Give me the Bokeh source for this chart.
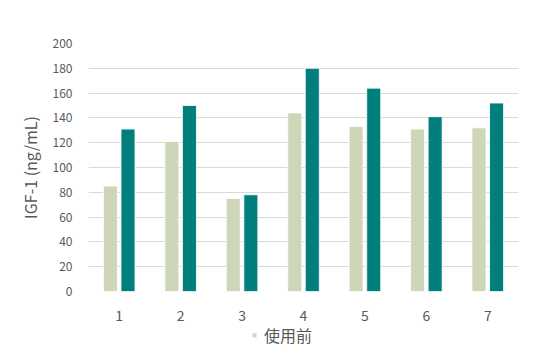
from bokeh.plotting import figure
from bokeh.layouts import column
from bokeh.models import ColumnDataSource, FactorRange, Range1d, Legend, LegendItem, FixedTicker
from bokeh.transform import dodge
from bokeh.embed import file_html
from bokeh.resources import INLINE

categories = ["1", "2", "3", "4", "5", "6", "7"]
before = [85, 121, 75, 144, 133, 131, 132]
after = [131, 150, 78, 180, 164, 141, 152]
series_names = ["使用前", "使用後"]
y_ticks = [0, 20, 40, 60, 80, 100, 120, 140, 160, 180, 200]

src = ColumnDataSource(dict(cat=categories, before=before, after=after))

FONT = "Noto Sans CJK JP"
GRAY = "#595959"
LIGHT = "#cdd7b8"
DARK = "#007f7d"

p = figure(width=540, height=323, x_range=FactorRange(*categories, range_padding=0),
           y_range=Range1d(0, 200), output_backend="svg", toolbar_location=None,
           min_border_left=88, min_border_right=22, min_border_top=43, min_border_bottom=31)
p.outline_line_color = None
p.background_fill_color = "white"
p.border_fill_color = "white"

r1 = p.vbar(x=dodge("cat", -0.143, range=p.x_range), top="before", width=0.228, source=src,
            fill_color=LIGHT, line_color="white", line_width=0.8)
r2 = p.vbar(x=dodge("cat", 0.143, range=p.x_range), top="after", width=0.228, source=src,
            fill_color=DARK, line_color="white", line_width=0.8)

p.xgrid.grid_line_color = None
p.ygrid.grid_line_color = "#d9d9d9"
p.ygrid.grid_line_width = 1
p.yaxis.ticker = FixedTicker(ticks=y_ticks)

for ax in (p.xaxis[0], p.yaxis[0]):
    ax.axis_line_color = None
    ax.major_tick_line_color = None
    ax.minor_tick_line_color = None
    ax.major_label_text_color = GRAY
    ax.major_label_text_font = FONT

p.yaxis.major_label_text_font_size = "12px"
p.yaxis.major_label_standoff = 10
p.yaxis.axis_label = "IGF-1 (ng/mL)"
p.yaxis.axis_label_text_font = FONT
p.yaxis.axis_label_text_font_size = "16px"
p.yaxis.axis_label_text_font_style = "normal"
p.yaxis.axis_label_text_color = GRAY
p.yaxis.axis_label_standoff = 8

p.xaxis.major_label_text_font_size = "14px"
p.xaxis.major_label_standoff = 12

# legend strip below the chart
lf = figure(width=540, height=32, x_range=Range1d(0, 1), y_range=Range1d(0, 1),
            x_axis_type=None, y_axis_type=None, output_backend="svg", toolbar_location=None,
            min_border=0)
lf.outline_line_color = None
lf.xgrid.visible = False
lf.ygrid.visible = False
# legend proxy glyph, placed outside the visible range
lr = lf.scatter(x=[5], y=[5], marker="square", size=10, fill_color=LIGHT, line_color=None)

legend = Legend(items=[LegendItem(label=series_names[0], renderers=[lr])],
                orientation="horizontal", location=(161, 8),
                label_text_font=FONT, label_text_font_size="16px", label_text_color=GRAY,
                glyph_width=10, glyph_height=10, label_standoff=5,
                border_line_color=None, background_fill_alpha=0,
                padding=0, margin=0, spacing=0)
lf.add_layout(legend, "center")

layout = column(p, lf, spacing=0)
open("out.html", "w").write(file_html(layout, INLINE))
